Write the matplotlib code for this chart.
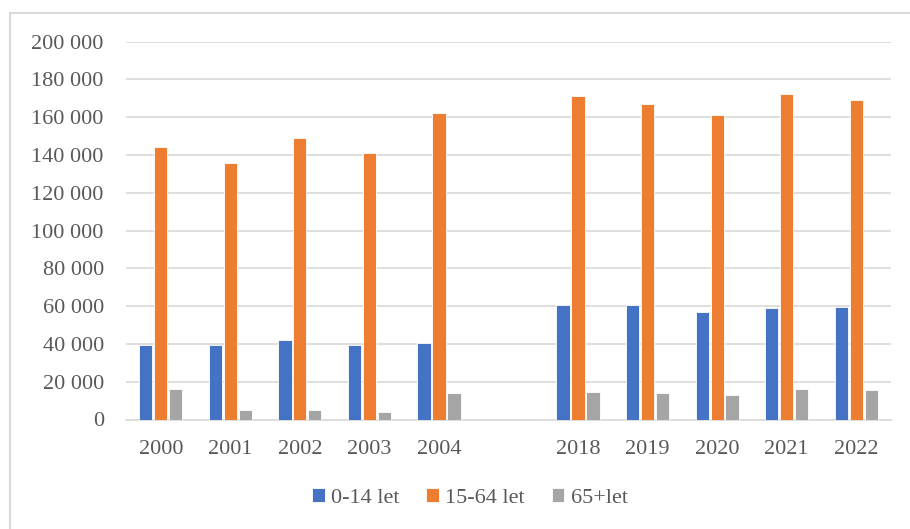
import numpy as np
import matplotlib.pyplot as plt
from matplotlib.lines import Line2D
from matplotlib.ticker import FuncFormatter

years = ['2000', '2001', '2002', '2003', '2004', '', '2018', '2019', '2020', '2021', '2022']
kids = [39400, 39400, 42000, 39400, 40400, np.nan, 60400, 60400, 57000, 58800, 59700]
working = [144400, 135900, 148800, 141000, 162000, np.nan, 171400, 167200, 161200, 172300, 168900]
seniors = [15900, 4800, 4800, 3900, 13900, np.nan, 14800, 13900, 13100, 16400, 15700]
series_names = ['0-14 let', '15-64 let', '65+let']
colors = ['#4472c4', '#ed7d31', '#a5a5a5']

plt.rcParams['font.family'] = ['Liberation Serif', 'DejaVu Serif']
txt = '#595959'
fs = 16

fig = plt.figure(figsize=(9.1, 5.29), dpi=100)
ax = fig.add_axes([126 / 910, 1 - 419.5 / 529, 765 / 910, 377.8 / 529])

x = np.arange(len(years))
step = 0.215
w = 0.19
for i, (vals, name, c) in enumerate(zip([kids, working, seniors], series_names, colors)):
    ax.bar(x + (i - 1) * step, vals, w, color=c, label=name,
           edgecolor='white', linewidth=0.6, zorder=3)

ax.set_xlim(-0.5, len(years) - 0.5)
ax.set_ylim(0, 200000)
ax.set_yticks(np.arange(0, 200001, 20000))
ax.yaxis.set_major_formatter(FuncFormatter(lambda v, p: f'{int(v):,}'.replace(',', ' ')))
ax.set_xticks(x)
ax.set_xticklabels(years)
ax.grid(axis='y', color='#d9d9d9', linewidth=1.2, zorder=0)
for s in ['top', 'right', 'left']:
    ax.spines[s].set_visible(False)
ax.spines['bottom'].set_color('#d9d9d9')
ax.spines['bottom'].set_linewidth(1.2)
ax.tick_params(axis='both', length=0, labelsize=fs, labelcolor=txt)
ax.tick_params(axis='y', pad=16)
ax.tick_params(axis='x', pad=15)

leg = fig.legend(loc='center', bbox_to_anchor=(470 / 910, 1 - 498 / 529), ncol=3,
                 frameon=False, fontsize=fs, handlelength=0.55, handleheight=0.55,
                 handletextpad=0.3, columnspacing=1.2)
for t in leg.get_texts():
    t.set_color(txt)

# chart frame (left and top edges visible)
fig.add_artist(Line2D([10 / 910, 10 / 910], [0, 1 - 12.5 / 529], transform=fig.transFigure,
                      color='#d9d9d9', linewidth=1.5))
fig.add_artist(Line2D([10 / 910, 1], [1 - 12.5 / 529, 1 - 12.5 / 529], transform=fig.transFigure,
                      color='#d9d9d9', linewidth=1.5))

fig.savefig('out.png', dpi=100)
